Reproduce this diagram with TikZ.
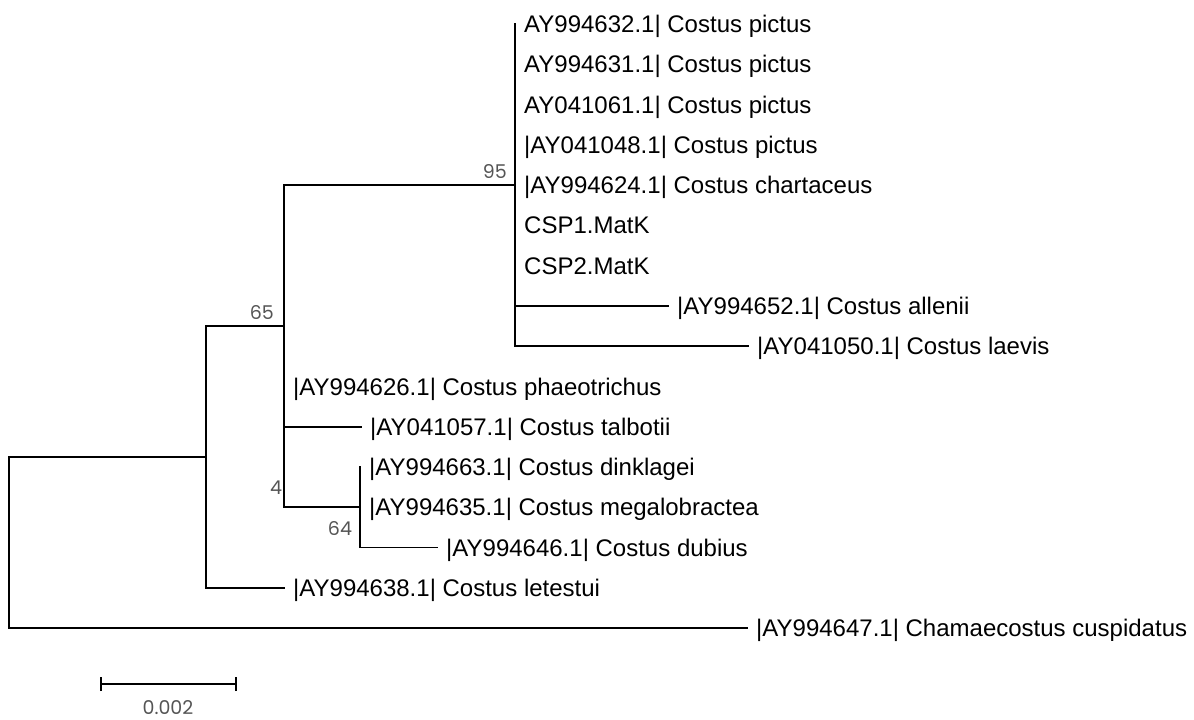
\documentclass[tikz,border=0pt]{standalone}
\usepackage{fontspec}
\setmainfont{Liberation Sans}
\newfontfamily\supfont{Poppins}
\definecolor{supgray}{HTML}{555555}
\begin{document}
\begin{tikzpicture}[x=1pt,y=-1pt,
  branch/.style={line width=1.9pt,line cap=rect},
  leaf/.style={anchor=base west,inner sep=0pt,xshift=9pt,yshift=-8.6pt,font=\fontsize{24}{28}\selectfont},
  support/.style={inner sep=0pt,text=supgray,font=\supfont\fontsize{19}{22}\selectfont}]
\useasboundingbox (0,0) rectangle (1194,720);
% internal nodes
\coordinate (root) at (9,542.5);
\coordinate (nA) at (206,456.9);
\coordinate (n65) at (284,326.1);
\coordinate (n95) at (515,185.1);
\coordinate (n4) at (284,467);
\coordinate (n64) at (360,507.2);
% tips
\coordinate (t1) at (515,24);
\coordinate (t2) at (515,64.3);
\coordinate (t3) at (515,104.5);
\coordinate (t4) at (515,144.8);
\coordinate (t5) at (515,185.1);
\coordinate (t6) at (515,225.3);
\coordinate (t7) at (515,265.6);
\coordinate (t8) at (668,305.9);
\coordinate (t9) at (748,346.1);
\coordinate (t10) at (284,386.4);
\coordinate (t11) at (361,426.7);
\coordinate (t12) at (360,466.9);
\coordinate (t13) at (360,507.2);
\coordinate (t14) at (437,547.5);
\coordinate (t15) at (284,587.7);
\coordinate (t16) at (747,628);
% labels
\node[leaf] (l1) at (t1) {AY994632.1| Costus pictus};
\node[leaf] (l2) at (t2) {AY994631.1| Costus pictus};
\node[leaf] (l3) at (t3) {AY041061.1| Costus pictus};
\node[leaf] (l4) at (t4) {|AY041048.1| Costus pictus};
\node[leaf] (l5) at (t5) {|AY994624.1| Costus chartaceus};
\node[leaf] (l6) at (t6) {CSP1.MatK};
\node[leaf] (l7) at (t7) {CSP2.MatK};
\node[leaf] (l8) at (t8) {|AY994652.1| Costus allenii};
\node[leaf] (l9) at (t9) {|AY041050.1| Costus laevis};
\node[leaf] (l10) at (t10) {|AY994626.1| Costus phaeotrichus};
\node[leaf] (l11) at (t11) {|AY041057.1| Costus talbotii};
\node[leaf] (l12) at (t12) {|AY994663.1| Costus dinklagei};
\node[leaf] (l13) at (t13) {|AY994635.1| Costus megalobractea};
\node[leaf] (l14) at (t14) {|AY994646.1| Costus dubius};
\node[leaf] (l15) at (t15) {|AY994638.1| Costus letestui};
\node[leaf] (l16) at (t16) {|AY994647.1| Chamaecostus cuspidatus};
% branches
\draw[branch] (root) |- (nA);
\draw[branch] (root) |- (t16);
\draw[branch] (nA) |- (n65);
\draw[branch] (nA) |- (t15);
\draw[branch] (n65) |- (n95);
\draw[branch] (n65) |- (t10);
\draw[branch] (n65) |- (n4);
\draw[branch] (n4) |- (t11);
\draw[branch] (n4) |- (n64);
\draw[branch] (n64) |- (t12);
\draw[branch] (n64) |- (t13);
\draw[branch] (n64) |- (t14);
\foreach \t in {t1,t2,t3,t4,t5,t6,t7,t8,t9}{\draw[branch] (n95) |- (\t);}
% support values
\node[support,anchor=east] (s95) at (507,172) {95};
\node[support,anchor=east] (s65) at (274,313) {65};
\node[support] (s4) at (276,488) {4};
\node[support] (s64) at (340,529) {64};
% scale bar
\coordinate (sb1) at (101,684);
\coordinate (sb2) at (236,684);
\draw[line width=1.9pt] (sb1) -- (sb2);
\draw[line width=1.9pt] ([yshift=-7pt]sb1) -- ([yshift=7pt]sb1);
\draw[line width=1.9pt] ([yshift=-7pt]sb2) -- ([yshift=7pt]sb2);
\node[support] (sbl) at (168,707.5) {0.002};
\end{tikzpicture}
\end{document}
